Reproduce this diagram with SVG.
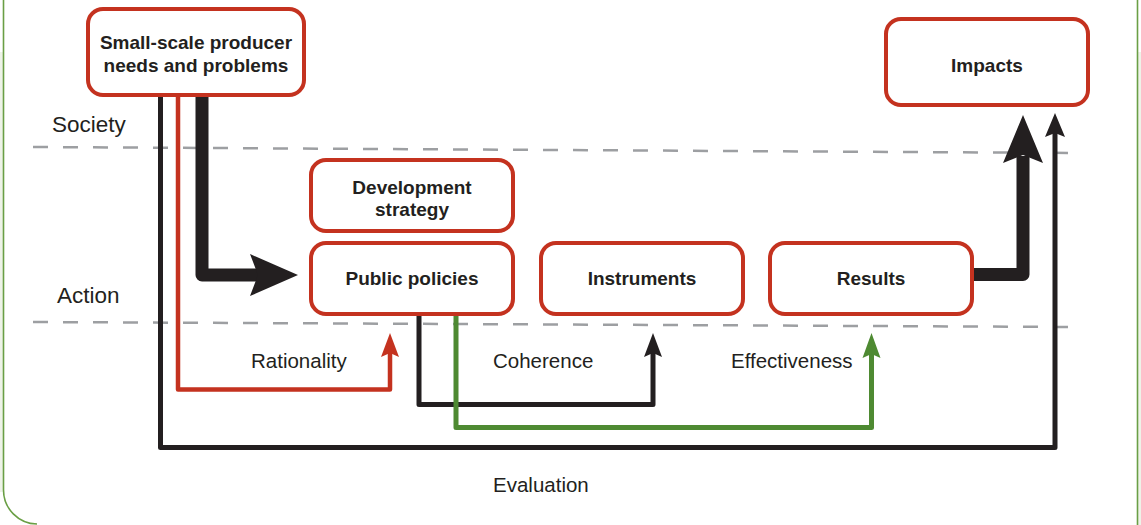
<svg xmlns="http://www.w3.org/2000/svg" width="1141" height="525" viewBox="0 0 1141 525">
<defs>
<style>
.box{fill:#fff;stroke:#c4321f;stroke-width:4}
.bt{font-family:"Liberation Sans",Arial,sans-serif;font-weight:bold;font-size:19px;fill:#231f20;text-anchor:middle}
.lb{font-family:"Liberation Sans",Arial,sans-serif;font-size:20.5px;fill:#231f20}
.zone{font-family:"Liberation Sans",Arial,sans-serif;font-size:22.5px;fill:#231f20}
.dash{stroke:#9d9fa2;stroke-width:2.5;stroke-dasharray:15 15;fill:none}
.ln{fill:none;stroke-linejoin:round}
</style>
</defs>
<rect x="0" y="0" width="1141" height="525" fill="#fff"/>
<rect x="0" y="52" width="3" height="440" fill="#eef3e8"/>
<rect x="1138" y="52" width="3" height="473" fill="#eef3e8"/>
<path d="M3.5 0 V490 A34 34 0 0 0 37 524" fill="none" stroke="#6a9f45" stroke-width="1.6"/>
<line x1="1137.5" y1="0" x2="1137.5" y2="525" stroke="#6a9f45" stroke-width="1.6"/>
<g id="separators">
<line class="dash" x1="33" y1="147" x2="1077" y2="153"/>
<line class="dash" x1="33" y1="322" x2="1078" y2="327"/>
</g>
<text class="zone" x="52" y="132">Society</text>
<text class="zone" x="57" y="303">Action</text>
<g id="connectors">
<path class="ln" d="M160.5 95 V447.5 H1055 V130" stroke="#231f20" stroke-width="5"/>
<polygon points="1055,113 1065,137 1055,133 1045,137" fill="#231f20"/>
<path class="ln" d="M178 95 V389.5 H390 V350" stroke="#c4321f" stroke-width="4.5"/>
<polygon points="390,333 399,357 390,353 381,357" fill="#c4321f"/>
<path class="ln" d="M202 95 V275 H259" stroke="#231f20" stroke-width="13"/>
<polygon points="250,254 298,275 250,296 258,275" fill="#231f20"/>
<path class="ln" d="M419 314 V404.5 H653 V350" stroke="#231f20" stroke-width="5"/>
<polygon points="653,333 662,357 653,353 644,357" fill="#231f20"/>
<path class="ln" d="M456 314 V427.5 H871.5 V350" stroke="#4e8a32" stroke-width="5"/>
<polygon points="871.5,333 880.5,358 871.5,354 862.5,358" fill="#4e8a32"/>
<path class="ln" d="M972 274.5 H1023 V156" stroke="#231f20" stroke-width="13"/>
<polygon points="1023,115 1043,163 1023,155 1003,163" fill="#231f20"/>
</g>
<g id="node-needs">
<rect class="box" x="88" y="9" width="216" height="86" rx="15"/>
<text class="bt" x="196" y="49">Small-scale producer</text>
<text class="bt" x="196" y="72">needs and problems</text>
</g>
<g id="node-impacts">
<rect class="box" x="886" y="19" width="202" height="86" rx="15"/>
<text class="bt" x="987" y="72">Impacts</text>
</g>
<g id="node-strategy">
<rect class="box" x="311" y="160" width="202" height="71" rx="15"/>
<text class="bt" x="412" y="194">Development</text>
<text class="bt" x="412" y="216">strategy</text>
</g>
<g id="node-policies">
<rect class="box" x="311" y="243" width="202" height="71" rx="15"/>
<text class="bt" x="412" y="285">Public policies</text>
</g>
<g id="node-instruments">
<rect class="box" x="541" y="243" width="202" height="71" rx="15"/>
<text class="bt" x="642" y="285">Instruments</text>
</g>
<g id="node-results">
<rect class="box" x="770" y="243" width="202" height="71" rx="15"/>
<text class="bt" x="871" y="285">Results</text>
</g>
<text class="lb" x="251" y="368">Rationality</text>
<text class="lb" x="493" y="368">Coherence</text>
<text class="lb" x="731" y="368">Effectiveness</text>
<text class="lb" x="493" y="492">Evaluation</text>
</svg>
